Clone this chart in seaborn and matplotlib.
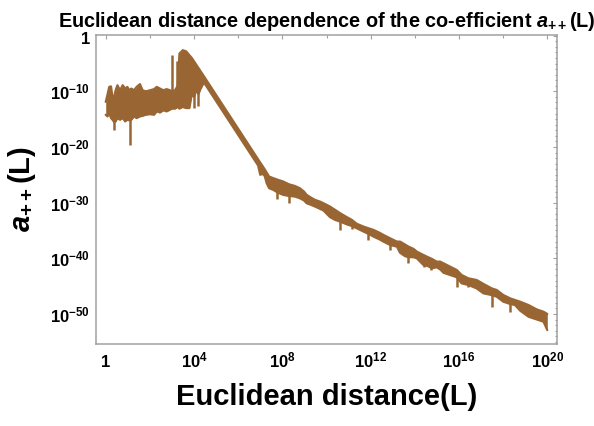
import numpy as np
import pandas as pd
import matplotlib
matplotlib.use("Agg")
import matplotlib.pyplot as plt
import seaborn as sns
from matplotlib.ticker import FixedLocator, NullFormatter
from matplotlib.transforms import offset_copy

# ---------------- data (log10 values) ----------------
band_log_L = [0.00, 0.08, 0.16, 0.24, 0.31, 0.38, 0.45, 0.53, 0.65, 0.77, 0.88, 0.98,
              1.07, 1.16, 1.28, 1.40, 1.55, 1.67, 1.82, 2.01, 2.19, 2.31, 2.46, 2.61,
              2.76, 2.91, 3.00, 3.14, 3.26, 3.34, 3.49, 3.64, 3.79, 3.90, 4.00, 4.10,
              4.20, 4.30, 4.45, 6.90, 7.00, 7.10, 7.20, 7.29, 7.40, 7.59, 7.80, 8.04,
              8.30, 8.57, 8.79, 8.98, 9.10, 9.30, 9.48, 9.70, 9.86, 10.16, 10.39, 10.62,
              10.92, 11.15, 11.37, 11.68, 11.90, 12.13, 12.40, 12.58, 12.88, 13.19, 13.33,
              13.55, 13.71, 13.94, 14.09, 14.39, 14.60, 14.77, 14.99, 15.15, 15.30, 15.60,
              15.90, 16.12, 16.43, 16.80, 17.11, 17.48, 17.71, 18.01, 18.32, 18.54, 18.77,
              19.15, 19.53, 19.83, 20.00]
band_log_upper = [-11.9, -10.6, -9.2, -9.1, -11.2, -11.0, -9.8, -8.9, -9.8, -8.9, -9.5, -9.2,
                  -9.8, -9.5, -9.8, -9.2, -8.7, -9.8, -10.0, -9.8, -9.6, -9.2, -9.5, -9.8,
                  -9.6, -9.8, -10.0, -9.8, -9.0, -3.2, -2.6, -2.8, -3.5, -4.0, -4.6, -5.2,
                  -5.8, -6.4, -7.3, -22.2, -22.8, -23.4, -24.0, -24.6, -25.3, -25.6, -25.9, -26.2,
                  -26.7, -27.0, -27.4, -28.0, -28.6, -29.1, -29.5, -29.8, -30.1, -30.7, -31.3, -31.9,
                  -32.6, -33.1, -33.8, -34.3, -34.6, -34.9, -35.4, -35.8, -36.4, -37.0, -37.0,
                  -37.5, -37.9, -38.3, -38.8, -39.4, -39.8, -40.1, -40.6, -40.6, -40.9, -41.5,
                  -42.1, -43.0, -43.6, -43.9, -44.6, -45.4, -45.7, -46.6, -47.2, -47.5, -47.8,
                  -48.4, -49.2, -49.6, -50.0]
band_log_lower = [-14.2, -14.5, -13.9, -14.8, -15.1, -15.5, -15.4, -14.8, -15.1, -14.8, -15.4, -15.1,
                  -15.2, -15.1, -14.5, -14.8, -14.5, -14.4, -14.2, -14.1, -14.2, -13.6, -13.8, -13.4,
                  -13.6, -13.3, -13.1, -13.1, -12.8, -13.1, -12.8, -13.0, -13.0, -10.5, -11.0, -9.8,
                  -10.5, -9.5, -8.4, -23.3, -25.0, -24.8, -25.2, -26.5, -27.4, -27.7, -28.2, -28.6,
                  -28.8, -28.9, -29.2, -29.6, -30.1, -30.4, -30.7, -31.1, -31.4, -32.6, -33.1, -33.4,
                  -33.9, -34.2, -34.6, -35.2, -35.6, -36.1, -36.6, -37.0, -37.6, -37.9, -39.0,
                  -39.6, -39.8, -39.8, -40.0, -41.2, -41.4, -41.8, -41.6, -42.0, -42.6, -43.0,
                  -43.4, -44.5, -44.8, -45.4, -46.3, -46.6, -46.9, -47.8, -48.2, -48.4, -49.4,
                  -50.5, -51.0, -51.4, -52.9]

spike_log_L = [0.36, 1.09, 3.00, 3.22, 3.98, 4.20, 7.75, 8.31, 10.62, 11.15, 11.90, 12.88,
               13.68, 14.40, 14.72, 15.90, 16.43, 17.48, 18.32]
spike_log_tip = [-16.9, -19.6, -3.5, -4.5, -13.0, -12.7, -29.4, -30.0, -34.9, -34.7, -36.7, -38.5,
                 -40.8, -41.6, -42.1, -45.1, -45.2, -48.7, -49.6]
spike_log_base = [-14.0, -14.0, -11.0, -11.0, -9.0, -9.0, -27.0, -27.5, -32.5, -33.5, -35.0, -36.8,
                  -38.5, -40.0, -40.8, -42.5, -44.0, -46.0, -47.5]

x_major_exp = [0, 4, 8, 12, 16, 20]
x_major_labels = ["1", r"$\mathbf{10^{4}}$", r"$\mathbf{10^{8}}$", r"$\mathbf{10^{12}}$",
                  r"$\mathbf{10^{16}}$", r"$\mathbf{10^{20}}$"]
x_minor_exp = [2, 6, 10, 14, 18]
y_major_exp = [0, -10, -20, -30, -40, -50]
y_major_labels = ["1", r"$\mathbf{10^{-10}}$", r"$\mathbf{10^{-20}}$", r"$\mathbf{10^{-30}}$",
                  r"$\mathbf{10^{-40}}$", r"$\mathbf{10^{-50}}$"]

title_text = r"Euclidean distance dependence of the co-efficient $a_{++}$(L)"
xlabel_text = "Euclidean distance(L)"
ylabel_text = r"$a_{++}$(L)"

# ---------------- style ----------------
sns.set_theme(style="white")
plt.rcParams["font.family"] = ["Liberation Sans", "DejaVu Sans"]
plt.rcParams["mathtext.fontset"] = "custom"
plt.rcParams["mathtext.rm"] = "Liberation Sans:bold"
plt.rcParams["mathtext.bf"] = "Liberation Sans:bold"
plt.rcParams["mathtext.it"] = "Liberation Sans:italic:bold"

LINE = "#996633"
FRAME = "#a0a0a0"

fig = plt.figure(figsize=(5.94, 4.26), dpi=100)
ax = fig.add_axes([96 / 594, 1 - 344 / 426, (557 - 96) / 594, (344 - 35) / 426])
ax.set_xscale("log")
ax.set_yscale("log")

df = pd.DataFrame({
    "L": 10.0 ** np.array(band_log_L),
    "upper": 10.0 ** np.array(band_log_upper),
    "lower": 10.0 ** np.array(band_log_lower),
})
ax.fill_between(df["L"], df["lower"], df["upper"], color=LINE, lw=0)
sns.lineplot(data=df, x="L", y="upper", color=LINE, lw=1.6, estimator=None, sort=False, ax=ax)
sns.lineplot(data=df, x="L", y="lower", color=LINE, lw=1.6, estimator=None, sort=False, ax=ax)
ax.vlines(10.0 ** np.array(spike_log_L), 10.0 ** np.array(spike_log_base),
          10.0 ** np.array(spike_log_tip), color=LINE, lw=1.8)

ax.set_xlim(10 ** -0.44, 10 ** 20.44)
ax.set_ylim(10 ** -55.4, 10 ** 0.13)

# ticks
ax.xaxis.set_major_locator(FixedLocator([10.0 ** e for e in x_major_exp]))
ax.xaxis.set_minor_locator(FixedLocator([10.0 ** e for e in x_minor_exp]))
ax.xaxis.set_major_formatter(NullFormatter())
ax.xaxis.set_minor_formatter(NullFormatter())
y_minor = [10.0 ** (-k) for k in range(0, 56) if k % 10 != 0]
ax.yaxis.set_major_locator(FixedLocator([10.0 ** e for e in y_major_exp]))
ax.yaxis.set_minor_locator(FixedLocator(y_minor))
ax.yaxis.set_major_formatter(NullFormatter())
ax.yaxis.set_minor_formatter(NullFormatter())

ax.tick_params(which="both", direction="in", top=True, right=True, color=FRAME, width=0.8)
ax.tick_params(which="major", length=3.0)
ax.tick_params(which="minor", length=1.8)

xtrans = ax.get_xaxis_transform()
for e, lab in zip(x_major_exp, x_major_labels):
    ax.text(10.0 ** e, -23.3 / 309, lab, transform=xtrans, ha="center",
            va="baseline", fontsize=12, fontweight="bold", color="black")

ytrans = offset_copy(ax.get_yaxis_transform(), fig=fig, x=-4.3, y=-6.0, units="points")
for e, lab in zip(y_major_exp, y_major_labels):
    ax.text(0, 10.0 ** e, lab, transform=ytrans, ha="right", va="baseline",
            fontsize=12, fontweight="bold", color="black")

for sp in ax.spines.values():
    sp.set_color(FRAME)
    sp.set_linewidth(1.1)

ax.set_title(title_text, fontsize=14.3, fontweight="bold", pad=6, color="black")
ax.set_xlabel(xlabel_text, fontsize=21, fontweight="bold", color="black")
ax.xaxis.set_label_coords(0.5, -0.125)
ax.set_ylabel(ylabel_text, fontsize=21, fontweight="bold", color="black")
ax.yaxis.set_label_coords(-0.126, 0.5)

fig.savefig("out.png", dpi=100)
